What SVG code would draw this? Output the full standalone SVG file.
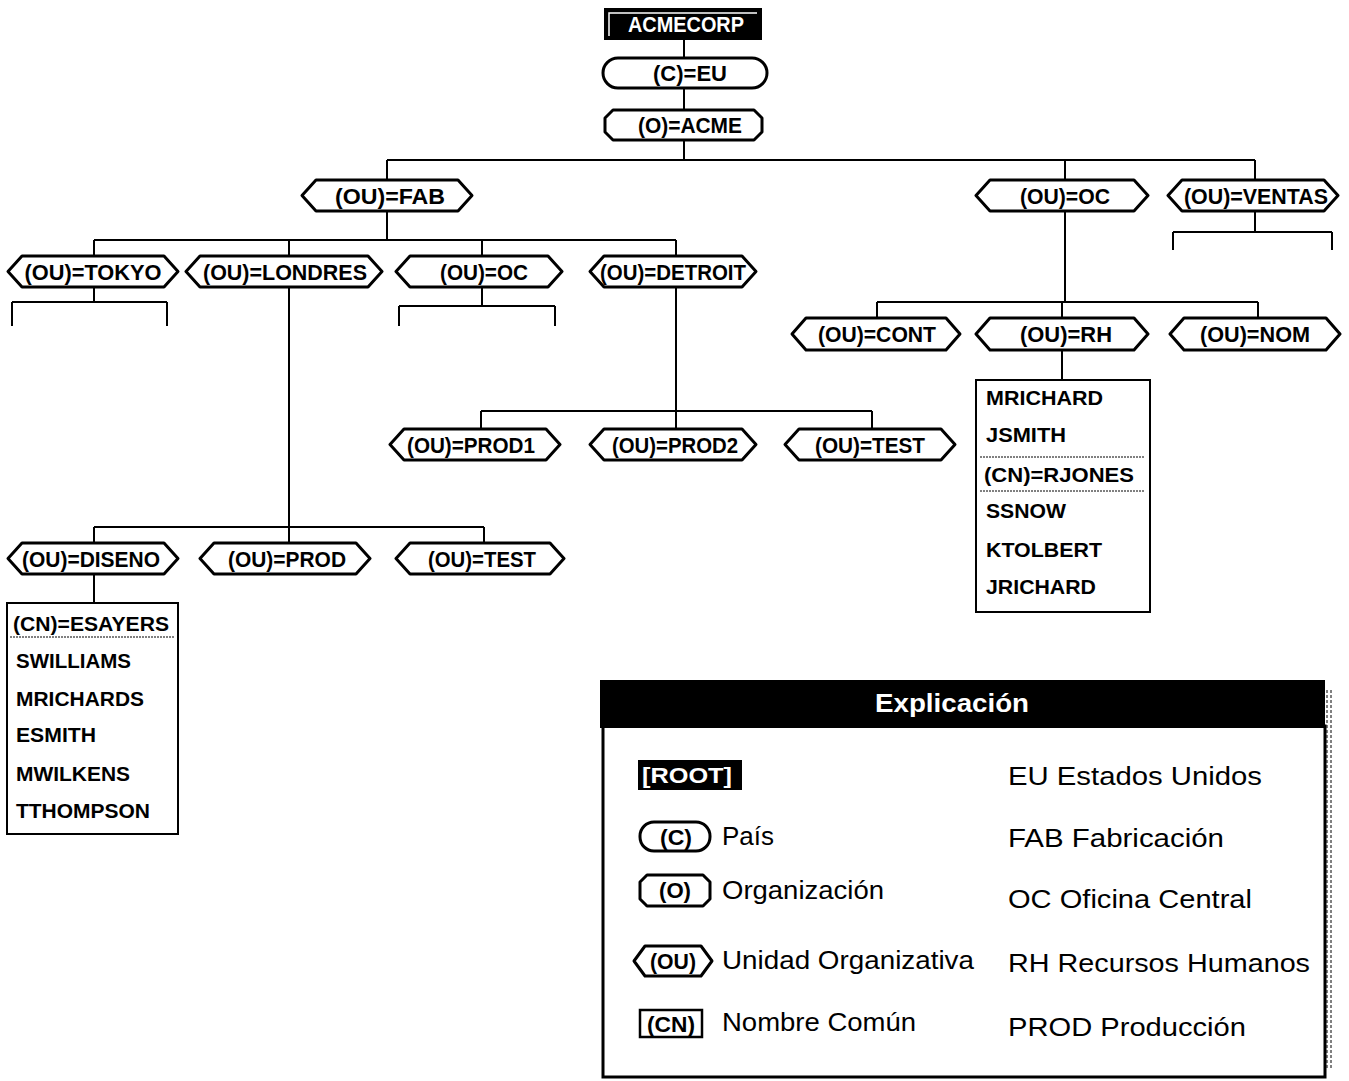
<svg xmlns="http://www.w3.org/2000/svg" width="1349" height="1081" viewBox="0 0 1349 1081">
<style>
.bg{fill:#fff}
.n{fill:#fff;stroke:#000;stroke-width:3;stroke-linejoin:round}
.lbl{font-family:"Liberation Sans",Arial,sans-serif;font-weight:bold;font-size:22px;fill:#000;text-anchor:middle}
.li{font-family:"Liberation Sans",Arial,sans-serif;font-weight:bold;font-size:21px;fill:#000}
.w{fill:#fff}
.c{fill:none;stroke:#000;stroke-width:2}
.box{fill:#fff;stroke:#000;stroke-width:2}
.lg{font-family:"Liberation Sans",Arial,sans-serif;font-size:26px;fill:#000}
</style>
<rect class="bg" x="0" y="0" width="1349" height="1081"/>
<g id="connectors">
<path class="c" d="M684 40V58M684 88V110M684 140V160M387 160H1255M387 160V180M1065 160V180M1255 160V180"/>
<path class="c" d="M387 211V240M94 240H676M94 240V256M289 240V256M482 240V256M676 240V256"/>
<path class="c" d="M94 287V302M12 302H167M12 302V326M167 302V326"/>
<path class="c" d="M482 287V306M399 306H555M399 306V326M555 306V326"/>
<path class="c" d="M676 287V411M481 411H872M481 411V429M676 411V429M872 411V429"/>
<path class="c" d="M289 287V527M94 527H484M94 527V543M289 527V543M484 527V543"/>
<path class="c" d="M94 574V603"/>
<path class="c" d="M1065 211V302M877 302H1258M877 302V318M1062 302V318M1258 302V318"/>
<path class="c" d="M1062 350V380"/>
<path class="c" d="M1255 211V232M1173 232H1332M1173 232V250M1332 232V250"/>
</g>
<g id="acmecorp">
<rect x="604" y="8" width="158" height="32" fill="#000"/>
<path d="M609 36V13H757" fill="none" stroke="#fff" stroke-width="1.5"/>
<text class="lbl w" x="686" y="32" textLength="116" lengthAdjust="spacingAndGlyphs">ACMECORP</text>
</g>
<g id="c-eu">
<rect class="n" x="603" y="58" width="164" height="30" rx="15"/>
<text class="lbl" x="690" y="81">(C)=EU</text>
</g>
<g id="o-acme">
<path class="n" d="M613 110H754L762 118V132L754 140H613L605 132V118Z"/>
<text class="lbl" x="690" y="133" textLength="104" lengthAdjust="spacingAndGlyphs">(O)=ACME</text>
</g>
<g id="ou-fab">
<path class="n" d="M302 195.5L316 180H458L472 195.5L458 211H316Z"/>
<text class="lbl" x="390" y="203.5" textLength="110" lengthAdjust="spacingAndGlyphs">(OU)=FAB</text>
</g>
<g id="ou-oc-top">
<path class="n" d="M976 195.5L990 180H1134L1148 195.5L1134 211H990Z"/>
<text class="lbl" x="1065" y="203.5" textLength="90" lengthAdjust="spacingAndGlyphs">(OU)=OC</text>
</g>
<g id="ou-ventas">
<path class="n" d="M1168 195.5L1182 180H1324L1338 195.5L1324 211H1182Z"/>
<text class="lbl" x="1256" y="203.5" textLength="144" lengthAdjust="spacingAndGlyphs">(OU)=VENTAS</text>
</g>
<g id="ou-tokyo">
<path class="n" d="M8 271.5L22 256H164L178 271.5L164 287H22Z"/>
<text class="lbl" x="93" y="279.5" textLength="137" lengthAdjust="spacingAndGlyphs">(OU)=TOKYO</text>
</g>
<g id="ou-londres">
<path class="n" d="M186 271.5L200 256H368L382 271.5L368 287H200Z"/>
<text class="lbl" x="285" y="279.5" textLength="164" lengthAdjust="spacingAndGlyphs">(OU)=LONDRES</text>
</g>
<g id="ou-oc-fab">
<path class="n" d="M396 271.5L410 256H548L562 271.5L548 287H410Z"/>
<text class="lbl" x="484" y="279.5" textLength="88" lengthAdjust="spacingAndGlyphs">(OU)=OC</text>
</g>
<g id="ou-detroit">
<path class="n" d="M590 271.5L604 256H742L756 271.5L742 287H604Z"/>
<text class="lbl" x="673" y="279.5" textLength="146" lengthAdjust="spacingAndGlyphs">(OU)=DETROIT</text>
</g>
<g id="ou-prod1">
<path class="n" d="M390 444.5L404 429H546L560 444.5L546 460H404Z"/>
<text class="lbl" x="471" y="452.5" textLength="128" lengthAdjust="spacingAndGlyphs">(OU)=PROD1</text>
</g>
<g id="ou-prod2">
<path class="n" d="M590 444.5L604 429H742L756 444.5L742 460H604Z"/>
<text class="lbl" x="675" y="452.5" textLength="126" lengthAdjust="spacingAndGlyphs">(OU)=PROD2</text>
</g>
<g id="ou-test-det">
<path class="n" d="M785 444.5L799 429H941L955 444.5L941 460H799Z"/>
<text class="lbl" x="870" y="452.5" textLength="110" lengthAdjust="spacingAndGlyphs">(OU)=TEST</text>
</g>
<g id="ou-diseno">
<path class="n" d="M8 558.5L22 543H164L178 558.5L164 574H22Z"/>
<text class="lbl" x="91" y="566.5" textLength="138" lengthAdjust="spacingAndGlyphs">(OU)=DISENO</text>
</g>
<g id="ou-prod-lon">
<path class="n" d="M200 558.5L214 543H356L370 558.5L356 574H214Z"/>
<text class="lbl" x="287" y="566.5" textLength="118" lengthAdjust="spacingAndGlyphs">(OU)=PROD</text>
</g>
<g id="ou-test-lon">
<path class="n" d="M396 558.5L410 543H550L564 558.5L550 574H410Z"/>
<text class="lbl" x="482" y="566.5" textLength="108" lengthAdjust="spacingAndGlyphs">(OU)=TEST</text>
</g>
<g id="ou-cont">
<path class="n" d="M792 334L806 318H946L960 334L946 350H806Z"/>
<text class="lbl" x="877" y="342" textLength="118" lengthAdjust="spacingAndGlyphs">(OU)=CONT</text>
</g>
<g id="ou-rh">
<path class="n" d="M976 334L990 318H1134L1148 334L1134 350H990Z"/>
<text class="lbl" x="1066" y="342" textLength="92" lengthAdjust="spacingAndGlyphs">(OU)=RH</text>
</g>
<g id="ou-nom">
<path class="n" d="M1170 334L1184 318H1326L1340 334L1326 350H1184Z"/>
<text class="lbl" x="1255" y="342" textLength="110" lengthAdjust="spacingAndGlyphs">(OU)=NOM</text>
</g>
<g id="list-diseno">
<rect class="box" x="7" y="603" width="171" height="231"/>
<path d="M10 637H175" stroke="#000" stroke-width="1" stroke-dasharray="2 1"/>
<text class="li" x="13" y="631" textLength="156" lengthAdjust="spacingAndGlyphs">(CN)=ESAYERS</text>
<text class="li" x="16" y="668" textLength="115" lengthAdjust="spacingAndGlyphs">SWILLIAMS</text>
<text class="li" x="16" y="706" textLength="128" lengthAdjust="spacingAndGlyphs">MRICHARDS</text>
<text class="li" x="16" y="742" textLength="80" lengthAdjust="spacingAndGlyphs">ESMITH</text>
<text class="li" x="16" y="781" textLength="114" lengthAdjust="spacingAndGlyphs">MWILKENS</text>
<text class="li" x="16" y="818" textLength="134" lengthAdjust="spacingAndGlyphs">TTHOMPSON</text>
</g>
<g id="list-rh">
<rect class="box" x="976" y="380" width="174" height="232"/>
<path d="M980 457H1144M980 491H1144" stroke="#000" stroke-width="1" stroke-dasharray="2 1"/>
<text class="li" x="986" y="405" textLength="117" lengthAdjust="spacingAndGlyphs">MRICHARD</text>
<text class="li" x="986" y="442" textLength="80" lengthAdjust="spacingAndGlyphs">JSMITH</text>
<text class="li" x="984" y="482" textLength="150" lengthAdjust="spacingAndGlyphs">(CN)=RJONES</text>
<text class="li" x="986" y="518" textLength="80" lengthAdjust="spacingAndGlyphs">SSNOW</text>
<text class="li" x="986" y="557" textLength="116" lengthAdjust="spacingAndGlyphs">KTOLBERT</text>
<text class="li" x="986" y="594" textLength="110" lengthAdjust="spacingAndGlyphs">JRICHARD</text>
</g>
<g id="legend">
<rect x="603" y="726" width="722" height="351" fill="#fff" stroke="#000" stroke-width="3"/>
<rect x="600" y="680" width="725" height="48" fill="#000"/>
<path d="M1327 690V1070M1331 690V1070" stroke="#000" stroke-width="1" stroke-dasharray="3 2"/>
<text x="952" y="712" font-family="Liberation Sans, Arial, sans-serif" font-size="26" font-weight="bold" fill="#fff" text-anchor="middle" textLength="154" lengthAdjust="spacingAndGlyphs">Explicación</text>
<rect x="638" y="760" width="104" height="30" fill="#000"/>
<text class="lbl w" x="687" y="783" textLength="90" lengthAdjust="spacingAndGlyphs">[ROOT]</text>
<rect class="n" x="640" y="822" width="70" height="29" rx="14"/>
<text class="lbl" x="676" y="845" textLength="32" lengthAdjust="spacingAndGlyphs">(C)</text>
<text class="lg" x="722" y="845" textLength="52" lengthAdjust="spacingAndGlyphs">País</text>
<path class="n" d="M647 875H703L710 882V899L703 906H647L640 899V882Z"/>
<text class="lbl" x="675" y="898" textLength="32" lengthAdjust="spacingAndGlyphs">(O)</text>
<text class="lg" x="722" y="899" textLength="162" lengthAdjust="spacingAndGlyphs">Organización</text>
<path class="n" d="M634 961L645 946H701L712 961L701 976H645Z"/>
<text class="lbl" x="673" y="969" textLength="46" lengthAdjust="spacingAndGlyphs">(OU)</text>
<text class="lg" x="722" y="969" textLength="252" lengthAdjust="spacingAndGlyphs">Unidad Organizativa</text>
<rect x="640" y="1010" width="62" height="27" fill="#fff" stroke="#000" stroke-width="2.5"/>
<text class="lbl" x="671" y="1032" textLength="48" lengthAdjust="spacingAndGlyphs">(CN)</text>
<text class="lg" x="722" y="1031" textLength="194" lengthAdjust="spacingAndGlyphs">Nombre Común</text>
<text class="lg" x="1008" y="785" textLength="254" lengthAdjust="spacingAndGlyphs">EU  Estados Unidos</text>
<text class="lg" x="1008" y="847" textLength="216" lengthAdjust="spacingAndGlyphs">FAB  Fabricación</text>
<text class="lg" x="1008" y="908" textLength="244" lengthAdjust="spacingAndGlyphs">OC  Oficina Central</text>
<text class="lg" x="1008" y="972" textLength="302" lengthAdjust="spacingAndGlyphs">RH  Recursos Humanos</text>
<text class="lg" x="1008" y="1036" textLength="238" lengthAdjust="spacingAndGlyphs">PROD  Producción</text>
</g>
</svg>
